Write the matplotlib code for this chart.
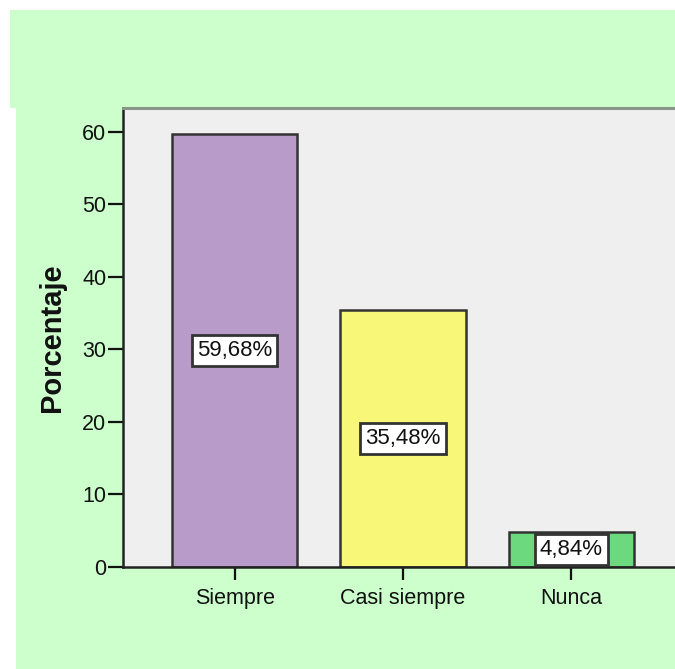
import matplotlib
matplotlib.use("Agg")
import matplotlib.pyplot as plt
from matplotlib.patches import Rectangle

# Data
categories = ["Siempre", "Casi siempre", "Nunca"]
percentages = [59.68, 35.48, 4.84]
bar_colors = ["#b89bc8", "#f9f778", "#6dd97e"]
y_ticks = [0, 10, 20, 30, 40, 50, 60]
y_label = "Porcentaje"

plt.rcParams["font.family"] = ["Liberation Sans", "DejaVu Sans"]

W, H = 675, 669
fig = plt.figure(figsize=(W / 100, H / 100), dpi=100)
fig.patch.set_facecolor("white")

bg_green = "#ccffcc"
# Title band and chart frame, kept behind the axes
fig.patches.append(Rectangle((10 / W, 1 - 108 / H), 1 - 10 / W, 98 / H,
                             transform=fig.transFigure, facecolor=bg_green,
                             edgecolor="none", zorder=-5))
fig.patches.append(Rectangle((16 / W, 0), 1 - 16 / W, 1 - 108 / H,
                             transform=fig.transFigure, facecolor=bg_green,
                             edgecolor="none", zorder=-5))

ax = fig.add_axes([123 / W, 1 - 567 / H, 1 - 123 / W + 0.002, (567 - 108) / H])
ax.set_zorder(2)
ax.set_facecolor("#efefef")

x = list(range(len(categories)))
bars = ax.bar(x, percentages, width=0.744, color=bar_colors,
              edgecolor="#333333", linewidth=1.8, zorder=2)

for xi, v in zip(x, percentages):
    ax.text(xi, v / 2, f"{v:.2f}%".replace(".", ","), ha="center", va="center",
            fontsize=16, color="#111111", zorder=3,
            bbox=dict(boxstyle="square,pad=0.22", facecolor="white",
                      edgecolor="#333333", linewidth=2.0))

ax.set_xlim(-0.664, 2.625)
ax.set_ylim(0, 63.3)
ax.set_yticks(y_ticks)
ax.set_yticklabels([str(t) for t in y_ticks])
ax.set_xticks(x)
ax.set_xticklabels(categories)

ax.tick_params(axis="y", length=11, width=1.6, pad=1, labelsize=15.5,
               colors="#111111")
ax.tick_params(axis="x", length=9, width=1.6, pad=6, labelsize=15.5,
               colors="#111111")

ax.spines["left"].set_linewidth(1.8)
ax.spines["left"].set_color("#222222")
ax.spines["bottom"].set_linewidth(1.8)
ax.spines["bottom"].set_color("#222222")
ax.spines["top"].set_linewidth(2.2)
ax.spines["top"].set_color("#8a958a")
ax.spines["right"].set_visible(False)

ax.set_ylabel(y_label, fontsize=21, fontweight="bold", labelpad=12,
              color="#111111")

fig.savefig("out.png", dpi=100, facecolor=fig.get_facecolor())
